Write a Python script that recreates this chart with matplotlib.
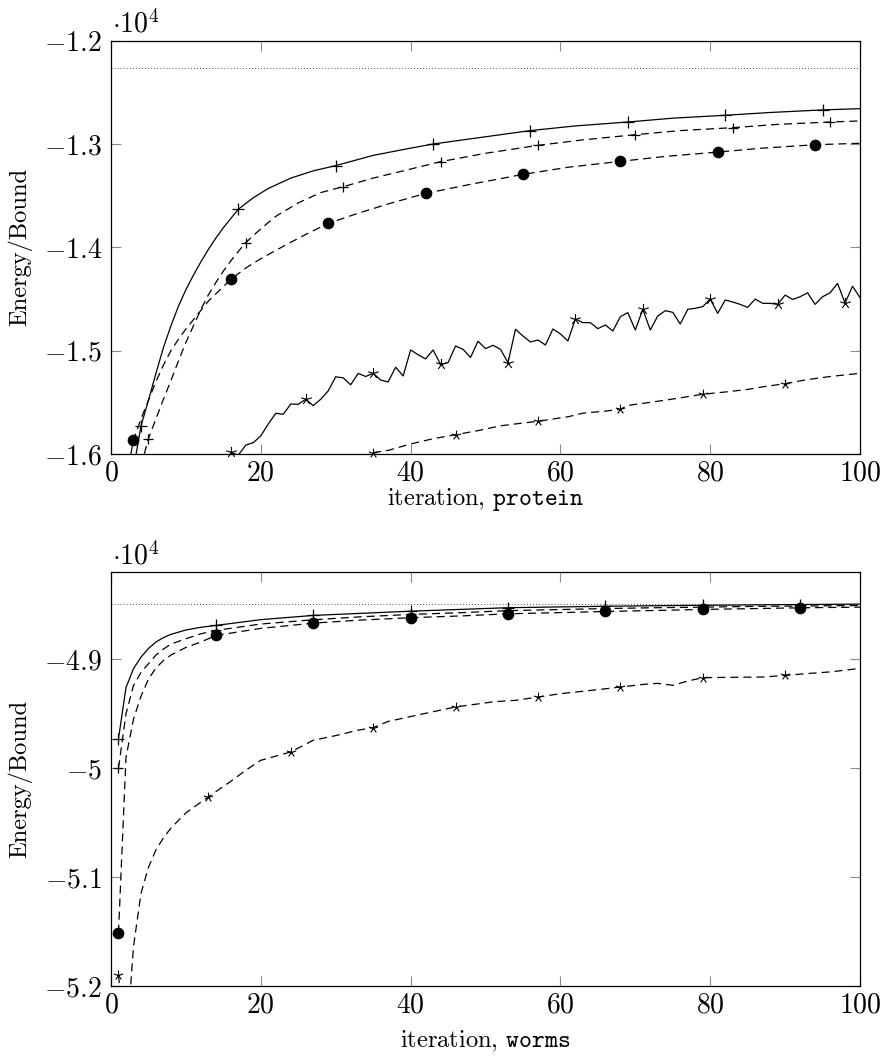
import matplotlib
matplotlib.use("Agg")
import matplotlib.pyplot as plt
import matplotlib.transforms as mtransforms
from matplotlib.path import Path
import numpy as np

plt.rcParams['font.family'] = 'cmr10'
plt.rcParams['mathtext.fontset'] = 'cm'
plt.rcParams['lines.scale_dashes'] = False
plt.rcParams['axes.unicode_minus'] = False

# ---------------- data (energies in units of 10^4) ----------------
# top panel: protein
top_bound = -1.2267

top_solid_x = [3, 4, 5, 6, 7, 8, 9, 10, 11, 12, 13, 14, 15, 16, 17, 19, 21, 24, 27, 30,
               35, 40, 43, 50, 56, 62, 69, 75, 82, 88, 95, 100]
top_solid_y = [-1.615, -1.5729, -1.548, -1.522, -1.497, -1.476, -1.457, -1.441, -1.427,
               -1.414, -1.402, -1.391, -1.381, -1.372, -1.3631, -1.352, -1.343, -1.333,
               -1.326, -1.3209, -1.311, -1.304, -1.300, -1.293, -1.287, -1.2825, -1.2787,
               -1.275, -1.2722, -1.2695, -1.267, -1.2658]
top_solid_marks = [4, 17, 30, 43, 56, 69, 82, 95]

top_dplus_x = [4, 5, 6, 7, 8, 9, 10, 11, 12, 13, 14, 15, 16, 17, 18, 20, 22, 25, 28, 31,
               35, 39, 44, 50, 57, 63, 70, 76, 83, 89, 96, 100]
top_dplus_y = [-1.612, -1.585, -1.566, -1.547, -1.529, -1.510, -1.492, -1.476, -1.460,
               -1.446, -1.434, -1.423, -1.413, -1.404, -1.3954, -1.382, -1.370, -1.357,
               -1.347, -1.3413, -1.333, -1.326, -1.3171, -1.309, -1.3013, -1.296, -1.291,
               -1.287, -1.2842, -1.281, -1.2787, -1.2777]
top_dplus_marks = [5, 18, 31, 44, 57, 70, 83, 96]

top_circ_x = [2, 3, 4, 5, 6, 7, 8, 9, 10, 11, 12, 13, 14, 15, 16, 18, 20, 23, 26, 29, 33,
              37, 42, 48, 55, 61, 68, 74, 81, 87, 94, 100]
top_circ_y = [-1.625, -1.5864, -1.566, -1.548, -1.530, -1.514, -1.500, -1.489, -1.479,
              -1.470, -1.461, -1.452, -1.445, -1.438, -1.4309, -1.420, -1.411, -1.399,
              -1.3875, -1.3768, -1.367, -1.358, -1.3478, -1.339, -1.3294, -1.3225,
              -1.3168, -1.312, -1.3078, -1.304, -1.3007, -1.2993]
top_circ_marks = [3, 16, 29, 42, 55, 68, 81, 94]

top_noisy_x = list(range(16, 101))
top_noisy_y = [-1.5985, -1.601, -1.5913, -1.5890, -1.5825, -1.5709, -1.5606, -1.5616,
               -1.5516, -1.5519, -1.5470, -1.5532, -1.5470, -1.5389, -1.5253, -1.5263,
               -1.5330, -1.5220, -1.5250, -1.5219, -1.5284, -1.5303, -1.5160, -1.5245,
               -1.4993, -1.5039, -1.5080, -1.4993, -1.5132, -1.5116, -1.4955, -1.4987,
               -1.5065, -1.4909, -1.4980, -1.4948, -1.4987, -1.5116, -1.4793, -1.4858,
               -1.4916, -1.4897, -1.4945, -1.4790, -1.4838, -1.4906, -1.4693, -1.4729,
               -1.4729, -1.4787, -1.4751, -1.4810, -1.4671, -1.4632, -1.4800, -1.4600,
               -1.4800, -1.4664, -1.4613, -1.4629, -1.4742, -1.4600, -1.4590, -1.4574,
               -1.4500, -1.4639, -1.4510, -1.4529, -1.4552, -1.4581, -1.4500, -1.4542,
               -1.4542, -1.4552, -1.4462, -1.4504, -1.4478, -1.4440, -1.4552, -1.4478,
               -1.4440, -1.4349, -1.4539, -1.4377, -1.4486]
top_noisy_marks = [16, 26, 35, 44, 53, 62, 71, 80, 89, 98]

top_dstar_x = [35, 37, 40, 43, 46, 49, 52, 55, 57, 60, 61, 63, 66, 68, 69, 72, 75, 79, 82,
               85, 87, 90, 93, 96, 100]
top_dstar_y = [-1.5987, -1.5965, -1.5903, -1.5852, -1.5813, -1.5774, -1.5727, -1.5700,
               -1.5684, -1.5650, -1.5640, -1.5605, -1.5585, -1.5567, -1.5530, -1.5500,
               -1.5468, -1.5422, -1.5400, -1.5375, -1.5350, -1.5319, -1.5280, -1.5250,
               -1.5219]
top_dstar_marks = [35, 46, 57, 68, 79, 90]

# bottom panel: worms
bot_bound = -4.8493

bot_solid_x = [1, 2, 3, 4, 5, 6, 7, 8, 9, 10, 12, 14, 20, 27, 33, 40, 47, 53, 60, 66, 73,
               79, 86, 92, 100]
bot_solid_y = [-4.9728, -4.926, -4.9085, -4.898, -4.890, -4.884, -4.880, -4.877, -4.875,
               -4.873, -4.8705, -4.8688, -4.8635, -4.8596, -4.8578, -4.8557, -4.8540,
               -4.8525, -4.8518, -4.8512, -4.8507, -4.8503, -4.8499, -4.8496, -4.8492]
bot_solid_marks = [1, 14, 27, 40, 53, 66, 79, 92]

bot_dplus_x = [1, 2, 3, 4, 5, 6, 7, 8, 10, 12, 14, 20, 27, 33, 40, 47, 53, 60, 66, 73, 79,
               86, 92, 100]
bot_dplus_y = [-5.0, -4.950, -4.924, -4.912, -4.904, -4.896, -4.8905, -4.886, -4.881,
               -4.8765, -4.8734, -4.8675, -4.8636, -4.861, -4.8587, -4.857, -4.8552,
               -4.8542, -4.8533, -4.8525, -4.852, -4.8513, -4.851, -4.8505]
bot_dplus_marks = [1, 14, 27, 40, 53, 66, 79, 92]

bot_circ_x = [1, 2, 3, 4, 5, 6, 7, 8, 10, 12, 14, 20, 27, 33, 40, 47, 53, 60, 66, 73, 79,
              86, 92, 100]
bot_circ_y = [-5.1511, -4.990, -4.955, -4.934, -4.918, -4.908, -4.901, -4.896, -4.889,
              -4.884, -4.878, -4.8715, -4.8667, -4.864, -4.8617, -4.860, -4.8581, -4.857,
              -4.856, -4.855, -4.8541, -4.8533, -4.8526, -4.852]
bot_circ_marks = [1, 14, 27, 40, 53, 66, 79, 92]

bot_dstar_x = [1, 2, 3, 4, 5, 6, 7, 8, 10, 13, 16, 18, 20, 24, 27, 30, 33, 35, 37, 41, 46,
               51, 54, 57, 60, 65, 68, 71, 73, 75, 77, 79, 82, 87, 90, 93, 96, 100]
bot_dstar_y = [-5.19, -5.26, -5.164, -5.115, -5.091, -5.075, -5.064, -5.055, -5.041,
               -5.0263, -5.012, -5.0018, -4.9927, -4.985, -4.9743, -4.970, -4.965, -4.9627,
               -4.957, -4.951, -4.9437, -4.939, -4.9376, -4.9346, -4.9315, -4.9278,
               -4.9254, -4.923, -4.922, -4.9238, -4.9199, -4.9168, -4.9165, -4.9162,
               -4.9147, -4.913, -4.9115, -4.9083]
bot_dstar_marks = [1, 13, 24, 35, 46, 57, 68, 79, 90]

x_ticks = [0, 20, 40, 60, 80, 100]
top_yticks = [-1.6, -1.5, -1.4, -1.3, -1.2]
top_yticklabels = ['-1.6', '-1.5', '-1.4', '-1.3', '-1.2']
bot_yticks = [-5.2, -5.1, -5.0, -4.9]
bot_yticklabels = ['-5.2', '-5.1', '-5', '-4.9']
top_xlabel = 'protein'
bot_xlabel = 'worms'

# ---------------- styling ----------------
FS_TICK = 20
FS_LABEL = 17.6
LW = 0.9
DASH = (0, (5.8, 3.6))
DOT = (0, (0.6, 1.6))

star_verts, star_codes = [], []
for k in range(5):
    a = np.pi / 2 + 2 * np.pi * k / 5
    star_verts += [(0, 0), (np.cos(a), np.sin(a))]
    star_codes += [Path.MOVETO, Path.LINETO]
STAR = Path(star_verts, star_codes)

fig = plt.figure(figsize=(8.88, 10.62), dpi=100)
ax1 = fig.add_axes([0.125, 0.5725, 0.8435, 0.3892])
ax2 = fig.add_axes([0.125, 0.0716, 0.8435, 0.3895])


def series(ax, x, y, marks, ls, marker, ms, mew=LW):
    ax.plot(x, y, color='k', lw=LW, linestyle=ls, zorder=2)
    idx = [x.index(m) for m in marks]
    ax.plot([x[i] for i in idx], [y[i] for i in idx], linestyle='none',
            marker=marker, ms=ms, mfc='k', mec='k', mew=mew, clip_on=False, zorder=3)


def style(ax, yticks, ylabels, ylim, xname, xlabel_y):
    ax.set_xlim(0, 100)
    ax.set_ylim(*ylim)
    ax.set_xticks(x_ticks)
    ax.set_xticklabels([r'$%d$' % t for t in x_ticks])
    ax.set_yticks(yticks)
    ax.set_yticklabels([r'$%s$' % s for s in ylabels])
    ax.tick_params(direction='in', length=7, width=0.8, color='#8c8c8c',
                   top=True, right=True, labelsize=FS_TICK)
    ax.tick_params(axis='x', pad=4.5)
    ax.tick_params(axis='y', pad=6.5)
    for s in ax.spines.values():
        s.set_linewidth(0.9)
        s.set_color('k')
    ax.set_ylabel('Energy/Bound', fontsize=FS_LABEL)
    ax.yaxis.set_label_coords(-0.105, 0.5)
    ax.set_xlabel(r'iteration, $\mathtt{%s}$' % xname, fontsize=FS_LABEL)
    ax.xaxis.set_label_coords(0.5, xlabel_y)
    off = mtransforms.offset_copy(ax.transAxes, fig=fig, x=1, y=8, units='dots')
    ax.text(0.0, 1.0, r'$\cdot 10^4$', transform=off, ha='left', va='baseline',
            fontsize=FS_TICK)


# top
ax1.axhline(top_bound, color='#333333', lw=0.7, linestyle=DOT, zorder=1)
series(ax1, top_solid_x, top_solid_y, top_solid_marks, '-', '+', 9, 0.9)
series(ax1, top_dplus_x, top_dplus_y, top_dplus_marks, DASH, '+', 6.5, 0.9)
series(ax1, top_circ_x, top_circ_y, top_circ_marks, DASH, 'o', 7.5)
series(ax1, top_noisy_x, top_noisy_y, top_noisy_marks, '-', STAR, 8, 0.8)
series(ax1, top_dstar_x, top_dstar_y, top_dstar_marks, DASH, STAR, 7, 0.8)
style(ax1, top_yticks, top_yticklabels, (-1.6, -1.2), top_xlabel, -0.078)

# bottom
ax2.axhline(bot_bound, color='#333333', lw=0.7, linestyle=DOT, zorder=1)
series(ax2, bot_solid_x, bot_solid_y, bot_solid_marks, '-', '+', 9, 0.9)
series(ax2, bot_dplus_x, bot_dplus_y, bot_dplus_marks, DASH, '+', 6.5, 0.9)
series(ax2, bot_circ_x, bot_circ_y, bot_circ_marks, DASH, 'o', 7.5)
series(ax2, bot_dstar_x, bot_dstar_y, bot_dstar_marks, DASH, STAR, 7, 0.8)
style(ax2, bot_yticks, bot_yticklabels, (-5.2, -4.82), bot_xlabel, -0.103)

fig.savefig('out.png', dpi=100)
